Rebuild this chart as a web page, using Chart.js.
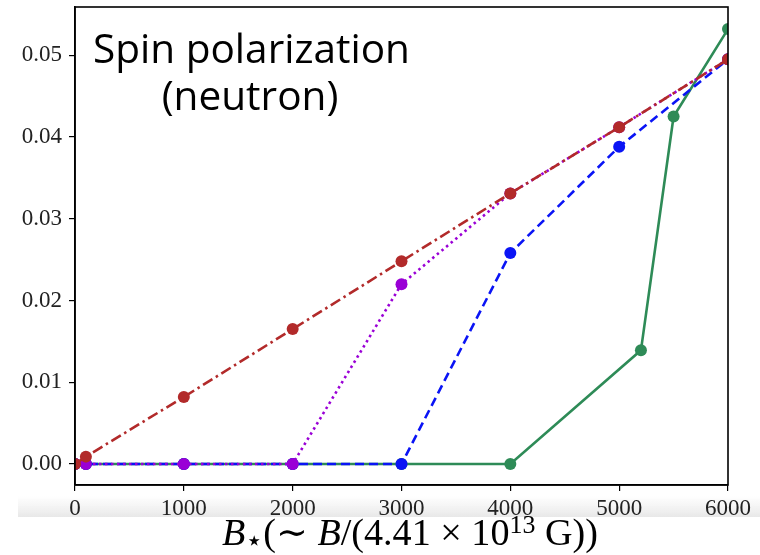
<!DOCTYPE html>
<html>
<head>
<meta charset="utf-8">
<script src="https://cdn.jsdelivr.net/npm/chart.js@4"></script>
<style>
	html, body { margin: 0; padding: 0; background: #fff; }
	#wrap { width: 760px; height: 555px; position: relative; }
</style>
</head>
<body>
<div id="wrap"><canvas id="chart"></canvas></div>
<script>
// values
var bStar = [0, 100, 1000, 2000, 3000, 4000, 5000, 6000];
var brownPol = [0, 0.0009, 0.0082, 0.0165, 0.0248, 0.0331, 0.0412, 0.0495];
var purplePol = [0, 0, 0, 0, 0.0220, 0.0331, 0.0412, 0.0495];
var bluePol = [0, 0, 0, 0, 0, 0.0258, 0.0388, 0.0495];
var greenB = [0, 100, 1000, 2000, 3000, 4000, 5200, 5500, 6000];
var greenPol = [0, 0, 0, 0, 0, 0, 0.0139, 0.0425, 0.0532];
var yTicks = [0, 0.01, 0.02, 0.03, 0.04, 0.05];
var xTicks = [0, 1000, 2000, 3000, 4000, 5000, 6000];
var noteLines = ["Spin polarization", "(neutron)"];

function pairs(xs, ys) {
	return xs.map(function (x, i) { return {x: x, y: ys[i]}; });
}

function series(label, xs, ys, color, dash) {
	return {
		label: label,
		data: pairs(xs, ys),
		borderColor: color,
		backgroundColor: color,
		borderWidth: 2.6,
		borderDash: dash,
		pointRadius: 6,
		pointHoverRadius: 6,
		pointBorderWidth: 0,
		tension: 0,
		clip: 0
	};
}

var serif = "'Liberation Serif', 'DejaVu Serif', serif";

// light grey band behind the x tick labels, as in the scanned figure
var bandPlugin = {
	id: "band",
	beforeDraw: function (chart) {
		var ctx = chart.ctx;
		ctx.save();
		var g = ctx.createLinearGradient(0, 496, 0, 517);
		g.addColorStop(0, "rgba(235,235,235,0)");
		g.addColorStop(1, "rgba(232,232,232,1)");
		ctx.fillStyle = g;
		ctx.fillRect(18, 496, 742, 21);
		ctx.restore();
	}
};

// full frame + text annotation + x axis label with math pieces
var decorPlugin = {
	id: "decor",
	afterDraw: function (chart) {
		var ctx = chart.ctx, a = chart.chartArea;
		ctx.save();
		ctx.strokeStyle = "#000";
		ctx.lineWidth = 1.6;
		ctx.strokeRect(a.left, a.top, a.right - a.left, a.bottom - a.top);

		// annotation
		ctx.fillStyle = "#000";
		ctx.textBaseline = "alphabetic";
		var size = 38;
		ctx.font = size + "px 'Open Sans', 'Noto Sans', sans-serif";
		var w = ctx.measureText(noteLines[0]).width;
		size = size * 317 / w;
		ctx.font = size + "px 'Open Sans', 'Noto Sans', sans-serif";
		ctx.textAlign = "left";
		ctx.fillText(noteLines[0], 93, 63);
		ctx.textAlign = "center";
		ctx.fillText(noteLines[1], 250, 110);

		// x axis label: B*(~ B/(4.41 x 10^13 G))
		var base = 30;
		var parts = [
			{t: "B", s: 1, it: true, dy: 0},
			{t: "\u22c6", s: 0.75, it: false, dy: 5, sans: true},
			{t: "(\u223c ", s: 1, it: false, dy: 0},
			{t: "B", s: 1, it: true, dy: 0},
			{t: "/(4.41 \u00d7 10", s: 1, it: false, dy: 0},
			{t: "13", s: 0.68, it: false, dy: -12},
			{t: " G))", s: 1, it: false, dy: 0}
		];
		function fontOf(p, b) {
			return (p.it ? "italic " : "") + (p.s * b) + "px " + (p.sans ? "'DejaVu Sans', sans-serif" : serif);
		}
		var total = 0;
		parts.forEach(function (p) {
			ctx.font = fontOf(p, base);
			total += ctx.measureText(p.t).width;
		});
		base = base * 376 / total;
		total = 376;
		var x = 410 - total / 2;
		ctx.textAlign = "left";
		parts.forEach(function (p) {
			ctx.font = fontOf(p, base);
			ctx.fillText(p.t, x, 545 + p.dy);
			x += ctx.measureText(p.t).width;
		});
		ctx.restore();
	}
};

var ctx = document.getElementById("chart").getContext("2d");
new Chart(ctx, {
	type: "line",
	data: {
		datasets: [
			series("brown", bStar, brownPol, "#b22a2a", [11, 4, 2.5, 4]),
			series("purple", bStar, purplePol, "#9a00d6", [2.5, 3.5]),
			series("blue", bStar, bluePol, "#0a14f5", [9, 5]),
			series("green", greenB, greenPol, "#2e8b57", [])
		]
	},
	options: {
		responsive: true,
		maintainAspectRatio: false,
		animation: false,
		layout: {padding: {top: 7, right: 32, left: 0, bottom: 0}},
		plugins: {legend: {display: false}, tooltip: {enabled: false}},
		scales: {
			x: {
				type: "linear",
				min: 0,
				max: 6000,
				afterFit: function (s) { s.height = 70; s.paddingLeft = 0; s.paddingRight = 0; },
				afterBuildTicks: function (s) {
					s.ticks = xTicks.map(function (v) { return {value: v}; });
				},
				grid: {display: true, drawOnChartArea: false, drawTicks: true, tickLength: 6, color: "#000", lineWidth: 1.2},
				border: {display: true, color: "#000", width: 1.6},
				ticks: {
					color: "#222",
					font: {family: serif, size: 23},
					padding: 4,
					maxRotation: 0,
					callback: function (v) { return String(v); }
				}
			},
			y: {
				type: "linear",
				min: -0.00257,
				max: 0.0559,
				afterFit: function (s) { s.width = 75; s.paddingTop = 0; s.paddingBottom = 0; },
				afterBuildTicks: function (s) {
					s.ticks = yTicks.map(function (v) { return {value: v}; });
				},
				grid: {display: true, drawOnChartArea: false, drawTicks: true, tickLength: 6, color: "#000", lineWidth: 1.2},
				border: {display: true, color: "#000", width: 1.6},
				ticks: {
					color: "#222",
					font: {family: serif, size: 23},
					padding: 7,
					callback: function (v) { return v.toFixed(2); }
				}
			}
		}
	},
	plugins: [bandPlugin, decorPlugin]
});
</script>
</body>
</html>
